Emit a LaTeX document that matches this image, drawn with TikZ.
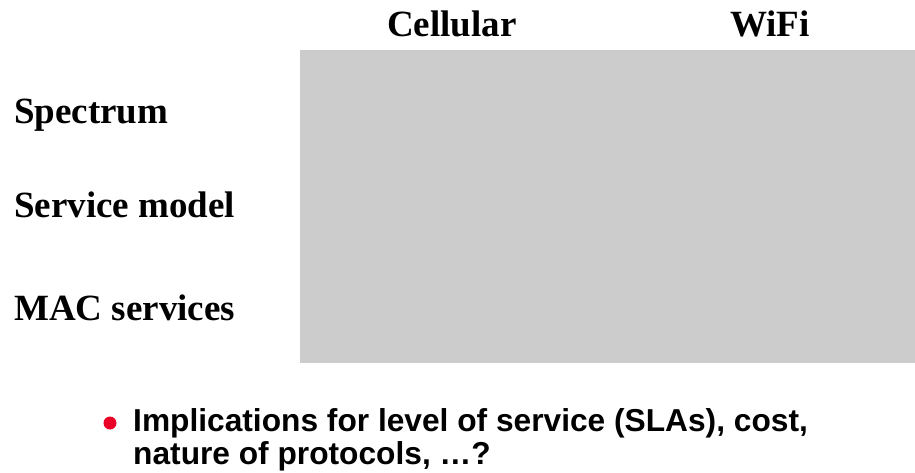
\documentclass[tikz,border=0pt]{standalone}
\usepackage{fontspec}
\setmainfont{Liberation Serif}
\newfontfamily\bulletfont{Liberation Sans}
\definecolor{cellgray}{RGB}{204,204,204}
\definecolor{bulletred}{RGB}{235,0,40}
\begin{document}
\begin{tikzpicture}[x=1pt,y=-1pt,
  head/.style={anchor=base, inner sep=0pt, font=\fontsize{37}{40}\selectfont\bfseries},
  rowlabel/.style={anchor=base west, inner sep=0pt, font=\fontsize{37}{40}\selectfont\bfseries},
  bullettext/.style={anchor=base west, inner sep=0pt, font=\bulletfont\fontsize{31.7}{32}\selectfont\bfseries}]
\useasboundingbox (0,0) rectangle (915,472);
\fill[white] (0,0) rectangle (915,472);
\node[fill=cellgray, inner sep=0pt, minimum width=615pt, minimum height=313pt, anchor=north west] (grid) at (300,50) {};
\node[head] (cell) at (452,36) {Cellular};
\node[head] (wifi) at (770,36) {WiFi};
\node[rowlabel] (spec) at (14,123) {Spectrum};
\node[rowlabel] (serv) at (14,217) {Service model};
\node[rowlabel] (mac) at (14,320) {MAC services};
\node[circle, fill=bulletred, minimum size=13pt, inner sep=0pt] (dot) at (110,423) {};
\node[bullettext] (line1) at (133,431) {Implications for level of service (SLAs), cost,};
\node[bullettext] (line2) at (133,464) {nature of protocols, …?};
\end{tikzpicture}
\end{document}
